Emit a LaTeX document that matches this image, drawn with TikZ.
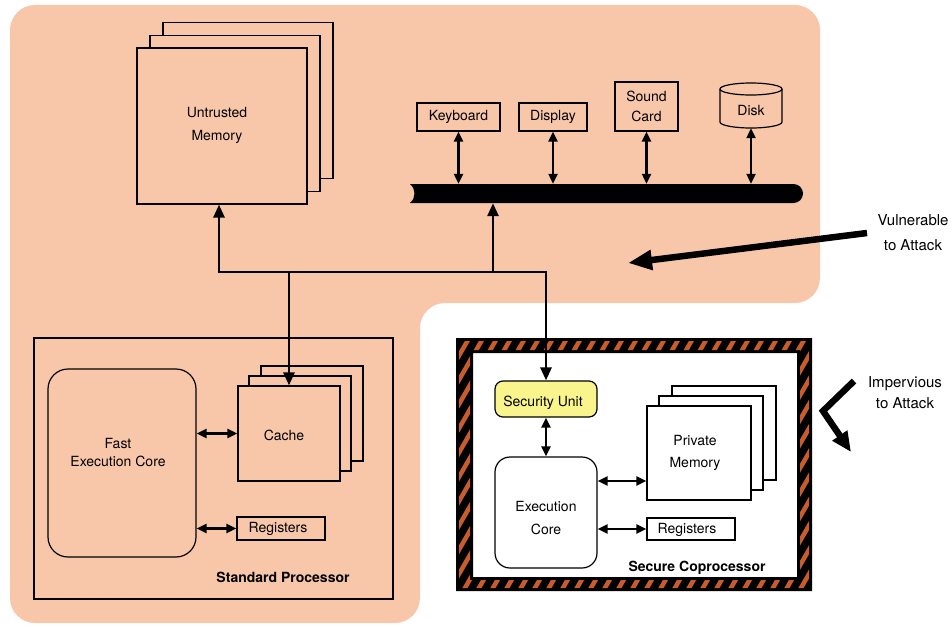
\documentclass[tikz,border=0pt]{standalone}
\usepackage{fontspec}
\setmainfont{TeX Gyre Heros}
\usetikzlibrary{arrows.meta}
\definecolor{peach}{RGB}{248,199,170}
\definecolor{hazard}{RGB}{200,92,42}
\definecolor{suyellow}{RGB}{250,244,140}

\begin{document}
\begin{tikzpicture}[x=1pt,y=-1pt,
  txt/.style={font=\fontsize{14}{23}\selectfont, align=center, inner sep=0},
  plate/.style={draw, line width=1.2pt, inner sep=0},
  box/.style={plate, txt},
  heading/.style={font=\fontsize{14}{23}\selectfont\bfseries, inner sep=0},
  wire/.style={line width=2.8pt, line join=miter},
  link/.style={wire, -{Triangle[length=13pt,width=11pt]}},
  dbl/.style={line width=2.2pt, {Triangle[length=10pt,width=9pt]}-{Triangle[length=10pt,width=9pt]}},
  pointer/.style={line width=6.5pt, line join=miter, -{Triangle[length=24pt,width=19pt]}},
  side/.style={font=\fontsize{15}{#1}\selectfont, align=center, inner sep=0},
]
\useasboundingbox (0,0) rectangle (952,626);

% exposed (untrusted) area
\fill[peach, rounded corners=25pt] (10,5) -- (820,5) -- (820,303) -- (420,303)
  -- (420,623) -- (10,623) -- cycle;

% ---------- untrusted memory (stack of three) ----------
\node[plate, fill=peach, minimum width=170pt, minimum height=156pt] (mem3) at (248,100.5) {};
\node[plate, fill=peach, minimum width=170pt, minimum height=156pt] (mem2) at (235,113.5) {};
\node[plate, fill=peach, minimum width=170pt, minimum height=156pt] (mem) at (222,126) {};
\node[txt] (memtxt) at (217,125.5) {Untrusted\\Memory};

% ---------- devices ----------
\node[box, minimum width=83pt, minimum height=28pt] (kbd) at (458.5,117) {Keyboard};
\node[box, minimum width=68pt, minimum height=28pt] (disp) at (553,117) {Display};
\node[box, font=\fontsize{14}{20}\selectfont, minimum width=63pt, minimum height=49pt] (sound) at (646.5,106.5) {Sound\\Card};
\node[inner sep=0, minimum width=62pt, minimum height=45pt] (disk) at (751,105.5) {};
\draw[line width=1.2pt] (720,89) -- (720,122)
  .. controls (720,125.3) and (733.9,128) .. (751,128)
  .. controls (768.1,128) and (782,125.3) .. (782,122) -- (782,89)
  .. controls (782,85.7) and (768.1,83) .. (751,83)
  .. controls (733.9,83) and (720,85.7) .. (720,89) -- cycle;
\draw[line width=1.2pt] (720,89) .. controls (720,92.3) and (733.9,95) .. (751,95)
  .. controls (768.1,95) and (782,92.3) .. (782,89);
\node[txt] (disktxt) at (751,111) {Disk};

% ---------- system bus ----------
\node[inner sep=0, minimum width=393pt, minimum height=19pt] (bus) at (606.5,193.5) {};
\fill (410,184) -- (793.5,184)
  .. controls (798.75,184) and (803,188.25) .. (803,193.5)
  .. controls (803,198.75) and (798.75,203) .. (793.5,203) -- (410,203)
  .. controls (416,198) and (416,189) .. (410,184) -- cycle;

\foreach \dev in {kbd,disp,sound,disk}
  \draw[dbl] (\dev.south) -- (\dev.south |- bus.north);

% ---------- standard processor ----------
\node[draw, line width=2.5pt, inner sep=0, minimum width=359pt, minimum height=261pt] (stdproc) at (213.5,468.5) {};
\node[plate, rounded corners=20pt, minimum width=148pt, minimum height=188pt] (fast) at (122,463) {};
\node[txt, font=\fontsize{14}{18}\selectfont] (fasttxt) at (118,453) {Fast\\Execution Core};
\node[plate, fill=peach, minimum width=102pt, minimum height=95pt] (cache3) at (312,413.5) {};
\node[plate, fill=peach, minimum width=102pt, minimum height=95pt] (cache2) at (300,423.5) {};
\node[plate, fill=peach, minimum width=102pt, minimum height=95pt] (cache) at (289,433.5) {};
\node[txt] (cachetxt) at (284,435) {Cache};
\node[plate, minimum width=88pt, minimum height=23pt] (sreg) at (281,528.5) {};
\node[txt] (sregtxt) at (278,529) {Registers};
\node[heading] (stdlabel) at (283,577) {Standard Processor};

\draw[dbl] (fast.east |- cache.west) -- (cache.west);
\draw[dbl] (fast.east |- sreg.west) -- (sreg.west);

% ---------- secure coprocessor with hazard border ----------
\fill[black, even odd rule] (456,338) rectangle (812,591) (473,353) rectangle (797,577);
\begin{scope}[even odd rule]
  \clip (459,341) rectangle (809,588) (470,350) rectangle (800,580);
  \foreach \k in {0,...,44}
    \draw[hazard, line width=4.5pt] (290+14*\k,600) -- ++(150,-260);
\end{scope}
\node[inner sep=0, minimum width=324pt, minimum height=224pt] (secproc) at (635,465) {};

\node[plate, fill=suyellow, rounded corners=8pt, minimum width=102pt, minimum height=36pt] (su) at (546,399) {};
\node[txt] (sutxt) at (543,403) {Security Unit};
\node[plate, fill=white, rounded corners=15pt, minimum width=102pt, minimum height=111pt] (core) at (546,512.5) {};
\node[txt] (coretxt) at (546,518.5) {Execution\\Core};
\node[plate, fill=white, minimum width=104pt, minimum height=94pt] (pm3) at (724,433) {};
\node[plate, fill=white, minimum width=104pt, minimum height=94pt] (pm2) at (711,443) {};
\node[plate, fill=white, minimum width=104pt, minimum height=94pt] (pm) at (699,453) {};
\node[txt, font=\fontsize{14}{22}\selectfont] (pmtxt) at (695,453) {Private\\Memory};
\node[plate, fill=white, minimum width=88pt, minimum height=22pt] (creg) at (691,529) {};
\node[txt] (cregtxt) at (687,529.5) {Registers};
\node[heading] (seclabel) at (697,568) {Secure Coprocessor};

\draw[dbl] (su.south) -- (core.north);
\draw[dbl] (core.east |- 0,481) -- (pm.west |- 0,481);
\draw[dbl] (core.east |- creg.west) -- (creg.west);

% ---------- interconnect ----------
\coordinate (jmem) at (219,272);
\coordinate (jcache) at (289,272);
\coordinate (jbus) at (493,272);
\coordinate (jsec) at (546,272);
\draw[wire, {Triangle[length=13pt,width=11pt]}-{Triangle[length=13pt,width=11pt]}]
  (jmem |- mem.south) -- (jmem) -- (jsec) -- (su.north);
\draw[link] (jcache) -- (jcache |- cache.north);
\draw[link] (jbus) -- (jbus |- bus.south);

% ---------- attack annotations ----------
\coordinate (vtail) at (867,233);
\coordinate (vtip) at (628,263);
\draw[pointer] (vtail) -- (vtip);
\node[side=25] (vuln) at (913,232.5) {Vulnerable\\to Attack};

\coordinate (itail) at (854,381);
\coordinate (ibend) at (823,411);
\coordinate (itip) at (851,452);
\draw[pointer, -{Triangle[length=20pt,width=17pt]}] (itail) -- (ibend) -- (itip);
\node[side=21] (imperv) at (905,392.5) {Impervious\\to Attack};
\end{tikzpicture}
\end{document}
